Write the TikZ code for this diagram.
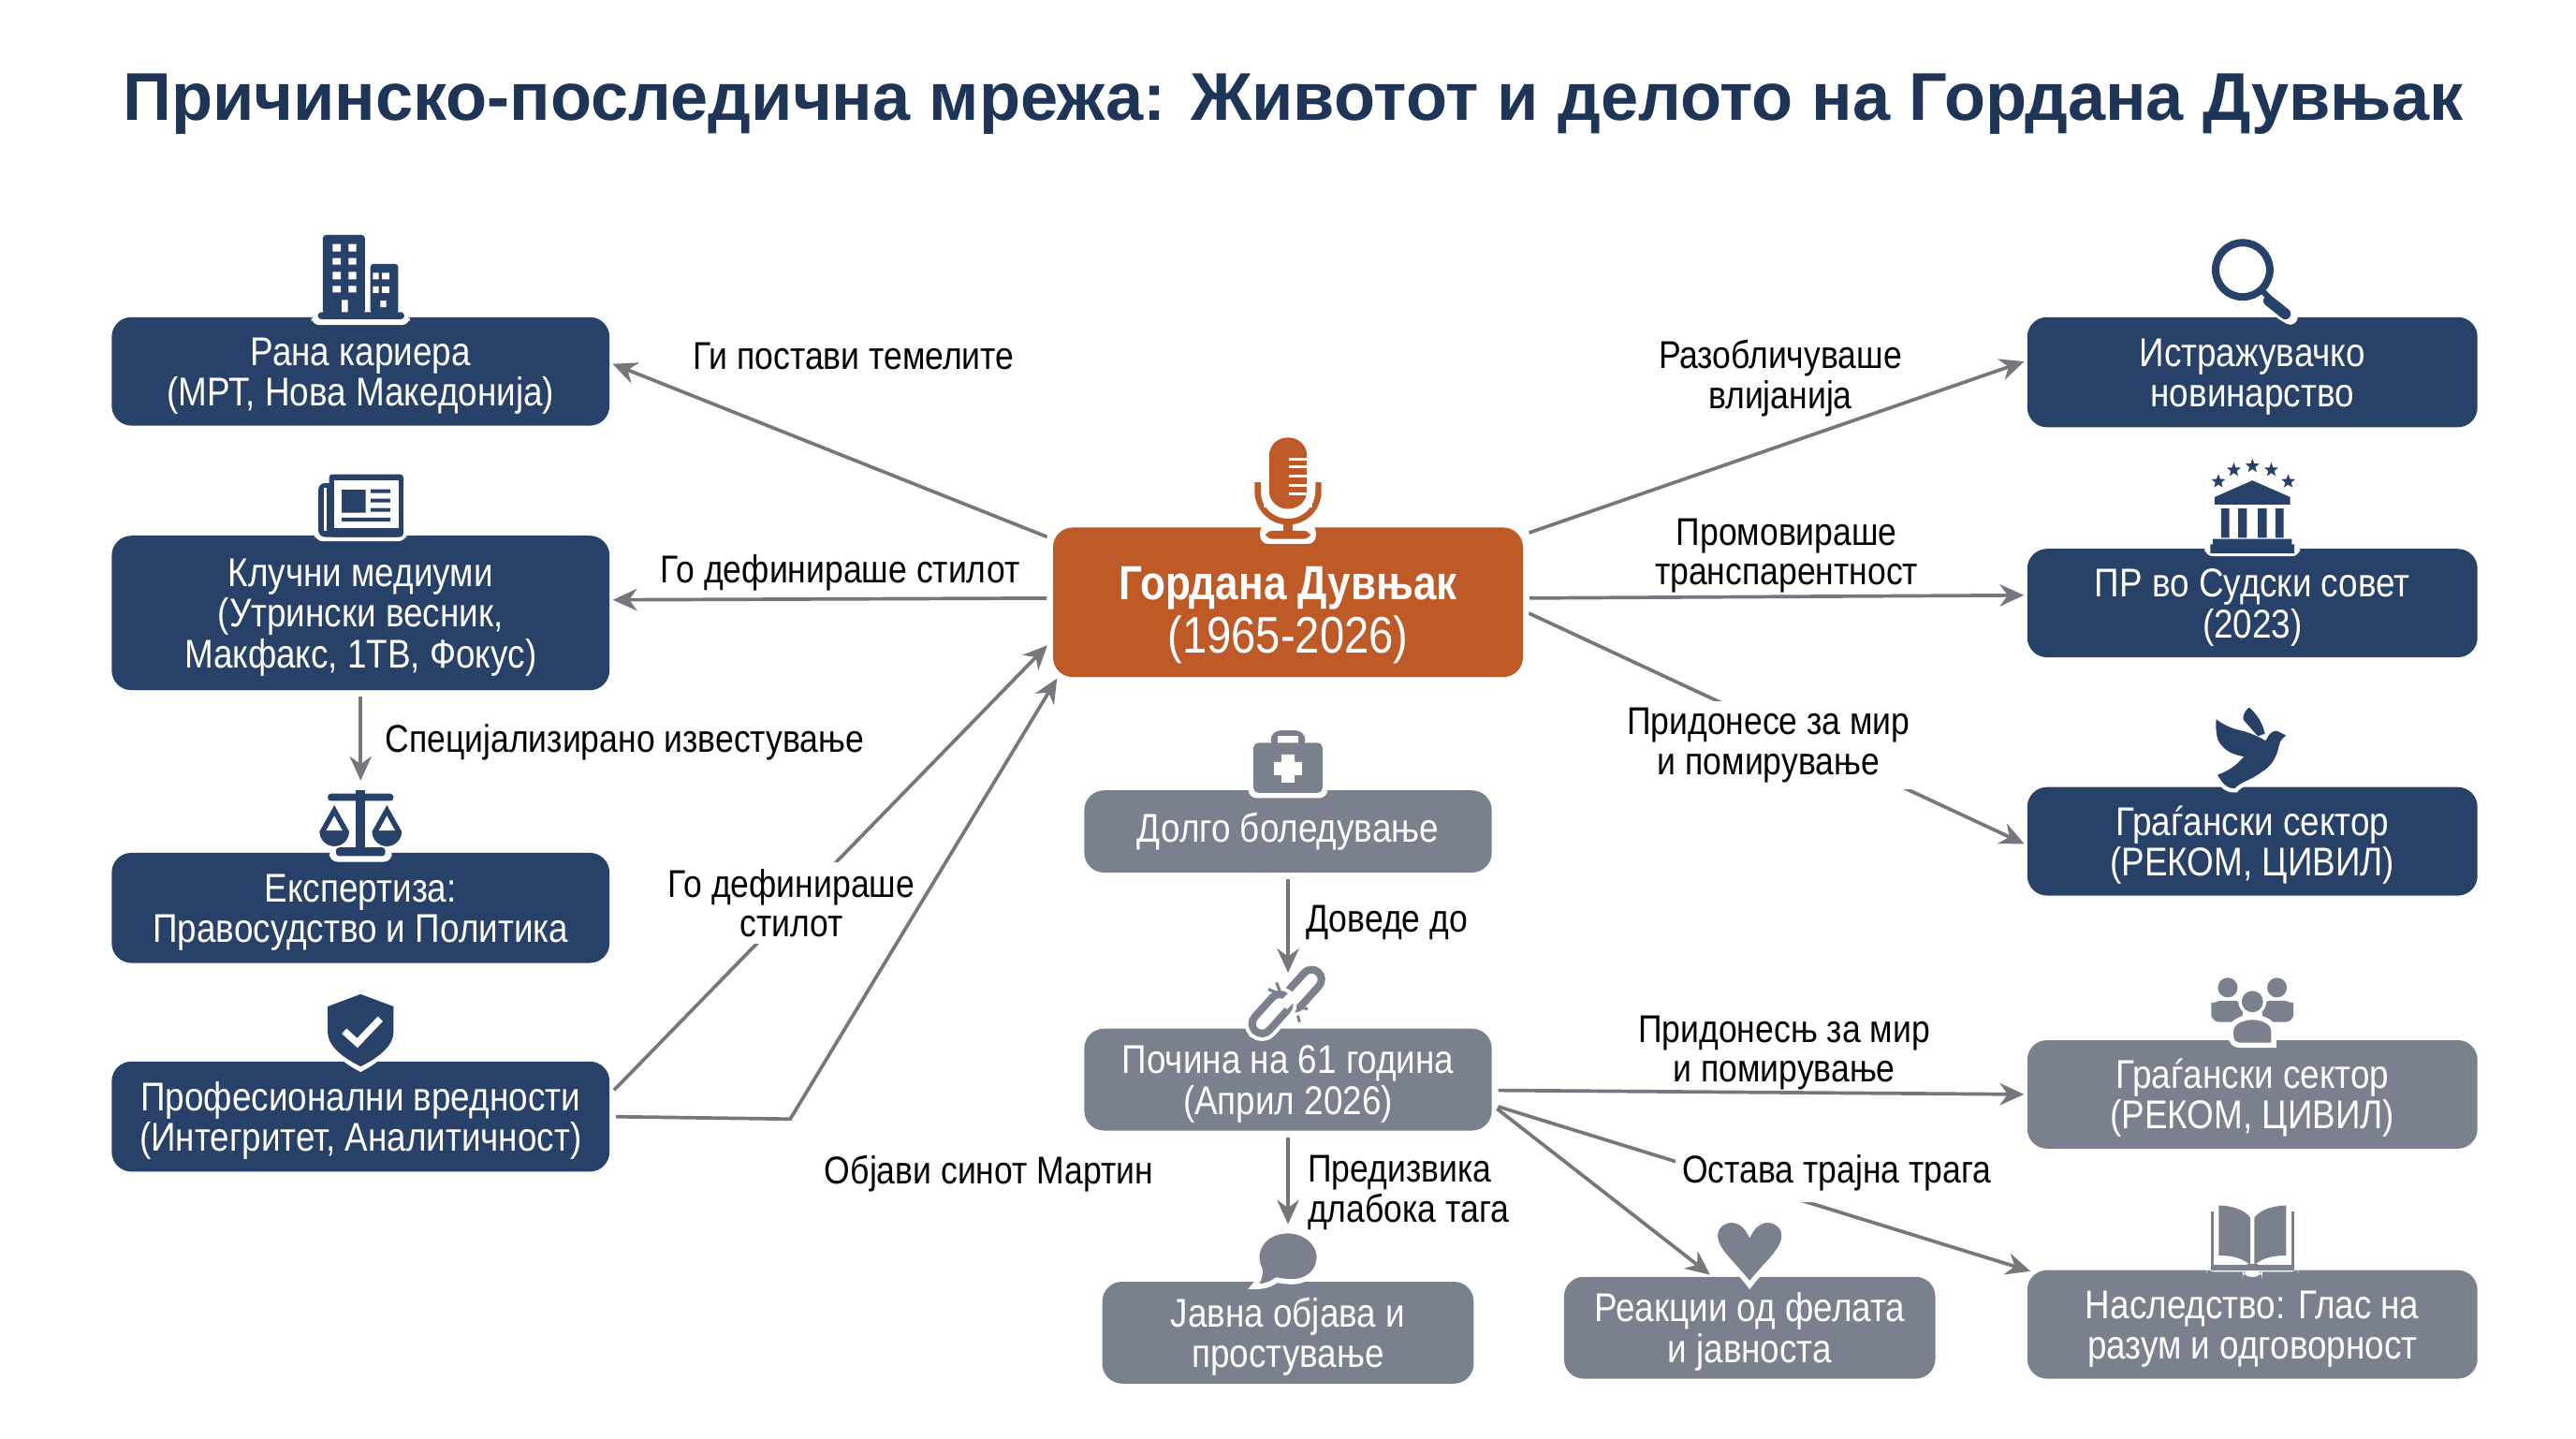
\documentclass[tikz,border=0pt]{standalone}
\usepackage{fontspec}
\setmainfont[FakeStretch=.86]{Liberation Sans}
\newfontfamily\titlefont{Liberation Sans}
\usetikzlibrary{arrows.meta,positioning}

\definecolor{dnavy}{HTML}{284168}
\definecolor{dorange}{HTML}{BE5A28}
\definecolor{dgray}{HTML}{7A808D}
\definecolor{dline}{HTML}{74777E}
\definecolor{dtitle}{HTML}{1F3557}

\newcommand{\boxfont}{\fontsize{6.95}{7}\selectfont}
\newcommand{\lblfont}{\fontsize{6.7}{6.9}\selectfont}
\newcommand{\tf}{\rule{0pt}{6.4pt}}
\newcommand{\icstar}[2]{\fill[dnavy,shift={(#1,#2)}] (90:4.5)--(126:1.9)--(162:4.5)--(198:1.9)--(234:4.5)--(270:1.9)--(306:4.5)--(342:1.9)--(18:4.5)--(54:1.9)--cycle;}

\tikzset{
  basebox/.style={rectangle, rounded corners=1.2mm, text=white, inner sep=0pt, outer sep=0pt, align=center, font=\boxfont},
  navybox/.style={basebox, fill=dnavy},
  graybox/.style={basebox, fill=dgray},
  conn/.style={->, draw=dline, line width=.6pt, shorten <=.4mm, shorten >=.2mm},
  lbl/.style={font=\lblfont, text=black, align=center, inner sep=0pt},
  gaplbl/.style={lbl, fill=white, inner sep=.4mm},
  icon/.style={x=.1mm, y=.1mm},
  halo/.style={fill=white, rounded corners=.5mm},
  icbuilding/.pic={
    \fill[halo] (-30,2) rectangle (30,-4.8);
    \fill[dnavy,rounded corners=.2mm] (-23,2) rectangle (2.6,50);
    \fill[dnavy,rounded corners=.2mm] (5.9,2) rectangle (22.9,32.4);
    \fill[dnavy,rounded corners=.2mm] (-26,-1.2) rectangle (26.6,3);
    \fill[white] (-17,40) rectangle (-12,44.5) (-7.4,40) rectangle (-2.6,44.5)
      (-17,32) rectangle (-12,36) (-7.4,32) rectangle (-2.6,36)
      (-17,23) rectangle (-12,27.5) (-7.4,23) rectangle (-2.6,27.5)
      (-17,15) rectangle (-12,19) (-7.4,15) rectangle (-2.6,19)
      (-11.5,3) rectangle (-7.8,10.5)
      (7.5,23) rectangle (11,27) (13,23) rectangle (17.4,27)
      (7.5,14.7) rectangle (11,18.7) (13,14.7) rectangle (17.4,18.7)
      (12,6) rectangle (15.6,10);
  },
  icpaper/.pic={
    \fill[halo] (-28,3) rectangle (28,-3.4);
    \fill[dnavy,rounded corners=.4mm] (-25.7,-.8) rectangle (26,32);
    \fill[dnavy,rounded corners=.2mm] (-19.2,-.8) rectangle (26,37.4);
    \fill[white] (-16,4.4) rectangle (23,34);
    \fill[white] (-22.5,3) rectangle (-20.5,29);
    \fill[dnavy] (-11.5,14) rectangle (3,28)
      (6,26) rectangle (18,28.3) (6,20.3) rectangle (18,22.6) (6,14.5) rectangle (18,16.8)
      (-11.5,8.7) rectangle (18,11);
  },
  icscales/.pic={
    \fill[halo] (-19,3) rectangle (19,-5.5);
    \fill[dnavy] (-15,-2) [rounded corners=.2mm] rectangle (15,3.3);
    \fill[dnavy] (-2.8,0) rectangle (2.8,38);
    \fill[dnavy,rounded corners=.2mm] (-20,31.6) rectangle (20,36);
    \fill[dnavy] (-16,29) -- (-25,13) arc[start angle=180,end angle=360,radius=9] -- cycle;
    \fill[dnavy] (16,29) -- (7,13) arc[start angle=180,end angle=360,radius=9] -- cycle;
    \fill[white] (-16,22.5) -- (-21,13.5) -- (-11,13.5) -- cycle;
    \fill[white] (16,22.5) -- (11,13.5) -- (21,13.5) -- cycle;
  },
  icshield/.pic={
    \fill[white] (0,-6.4) .. controls (-12,0) and (-22,8) .. (-22,20) -- (22,20) .. controls (22,8) and (12,0) .. (0,-6.4) -- cycle;
    \fill[dnavy] (0,41) -- (-20,33.5) -- (-20,18) .. controls (-20,9) and (-10,2) .. (0,-3) .. controls (10,2) and (20,9) .. (20,18) -- (20,33.5) -- cycle;
    \draw[white,line width=1.2pt] (-10,18.5) -- (-2,11.3) -- (12,26);
  },
  icmic/.pic={
    \fill[halo] (-17,2) rectangle (17,-10);
    \fill[dorange,rounded corners=.4mm] (-13.6,-7) rectangle (13.6,-2);
    \draw[white,line width=2.1pt] (-18.5,27.5) -- (-18.5,22) arc[start angle=180,end angle=360,radius=18.5] -- (18.5,27.5);
    \fill[dorange] (-2.6,-3) rectangle (2.6,4);
    \draw[dorange,line width=1.05pt] (-18.5,27.5) -- (-18.5,22) arc[start angle=180,end angle=360,radius=18.5] -- (18.5,27.5);
    \fill[white] (-15,12) rectangle (15,27);
    \fill[dorange,rounded corners=1.1mm] (-11.5,11.4) rectangle (11.5,54.7);
    \draw[white,line width=.5pt] (.7,41.8) -- (11.5,41.8) (.7,37) -- (11.5,37) (.7,31.4) -- (11.5,31.4) (.7,25.7) -- (11.5,25.7) (.7,20.5) -- (11.5,20.5);
  },
  icmedkit/.pic={
    \fill[halo] (-24,3) rectangle (24,-4.7);
    \fill[dgray,rounded corners=.6mm] (-10.5,25) rectangle (10.5,36.5);
    \fill[white] (-6.4,25) rectangle (6.4,33);
    \fill[dgray,rounded corners=.3mm] (-21,-1.5) rectangle (21,29);
    \fill[white] (-8.5,9.3) rectangle (8.5,17.3) (-4,4.8) rectangle (4,21.8);
  },
  iclink/.pic={
    \begin{scope}[shift={(9,24)},rotate=48]
      \draw[white,line width=2.6pt,rounded corners=.6mm] (-14,-6) rectangle (14,6);
      \draw[dgray,line width=1.3pt,rounded corners=.6mm] (-14,-6) rectangle (14,6);
    \end{scope}
    \begin{scope}[shift={(-10.5,9)},rotate=48]
      \draw[white,line width=2.6pt,rounded corners=.6mm] (-14,-6) rectangle (14,6);
      \draw[dgray,line width=1.3pt,rounded corners=.6mm] (-14,-6) rectangle (14,6);
    \end{scope}
    \draw[white,line width=1.8pt] (-3,14) -- (3,20);
    \draw[dgray,line width=.5pt] (-7,28) -- (-5,23) (-12,24) -- (-7,22) (7,13) -- (12,12) (6,8) -- (7,4);
  },
  icbubble/.pic={
    \path[fill=dgray,draw=white,line width=.9pt] (-17,7) .. controls (-17,3) and (-18,0) .. (-21,-3) .. controls (-15,-3) and (-11,-2) .. (-7,1) .. controls (-3,.3) and (0,0) .. (2,0) .. controls (12,0) and (19,6) .. (19,15) .. controls (19,24) and (10,31) .. (0,31) .. controls (-11,31) and (-19,24) .. (-19,15) .. controls (-19,12) and (-18,9) .. (-17,7) -- cycle;
  },
  icheart/.pic={
    \path[fill=dgray,draw=white,line width=.9pt] (0,-5) .. controls (-11,9) and (-21,16) .. (-21,25) .. controls (-21,31) and (-16,34.5) .. (-11,34.5) .. controls (-6,34.5) and (-2,31) .. (0,27) .. controls (2,31) and (6,34.5) .. (11,34.5) .. controls (16,34.5) and (21,31) .. (21,25) .. controls (21,16) and (11,9) .. (0,-5) -- cycle;
  },
  iclens/.pic={
    \draw[white,line width=2.6pt,line cap=round] (18,3) -- (23,0);
    \draw[dnavy,line width=1.3pt] (-5.9,28.8) circle[radius=16.5];
    \draw[dnavy,line width=1pt] (6,16) -- (11,11);
    \draw[dnavy,line width=1.9pt,line cap=round] (10,10) -- (20,2);
  },
  iccourt/.pic={
    \icstar{-20.7}{41}\icstar{-11.3}{48}\icstar{0}{50.4}\icstar{11.5}{48}\icstar{21.8}{41}
    \fill[halo] (-29,3) rectangle (29,-4.5);
    \fill[dnavy] (0,41.6) -- (-23,31.5) -- (-23,27) -- (23,27) -- (23,31.5) -- cycle;
    \fill[dnavy] (-19,6.8) rectangle (-14,24.6) (-8.7,6.8) rectangle (-3.3,24.6) (3.3,6.8) rectangle (8.7,24.6) (14,6.8) rectangle (19,24.6);
    \fill[dnavy] (-24,2.7) rectangle (24,6) (-25.6,-2.7) rectangle (25.6,2.7);
  },
  icdove/.pic={
    \path[fill=dnavy,draw=white,line width=.7pt] (23.5,31.5) -- (15,35.6) .. controls (11,35.6) and (9,33) .. (7.6,30) .. controls (2,33) and (-3,35) .. (-6.5,35.6) .. controls (-13,37) and (-19,40) .. (-23,44) .. controls (-24,36) and (-23,30) .. (-21.8,27.4) .. controls (-18,21) and (-13,19) .. (-7.6,17.8) .. controls (-13,12) and (-18,10) .. (-23,8.2) .. controls (-21,4) and (-17,-3) .. (-10,-2) .. controls (-7,2) and (0,3) .. (6.5,8.2) .. controls (13,12) and (16,18) .. (17.4,24.6) .. controls (18,28) and (20,30) .. (23.5,31.5) -- cycle;
    \fill[dnavy] (-2,48.5) .. controls (-5,46) and (-6,43) .. (-5.5,41) -- (3.3,31) -- (7.6,32.5) .. controls (6,40) and (2,45) .. (-2,48.5) -- cycle;
  },
  icpeople/.pic={
    \fill[dgray] (-15,32) circle[radius=6] (15,32) circle[radius=6];
    \fill[dgray,rounded corners=.5mm] (-25,11) -- (-25,18) .. controls (-25,22) and (-20,24) .. (-15,24) .. controls (-10,24) and (-6,22) .. (-6,18) -- (-6,11) -- cycle;
    \fill[dgray,rounded corners=.5mm] (25,11) -- (25,18) .. controls (25,22) and (20,24) .. (15,24) .. controls (10,24) and (6,22) .. (6,18) -- (6,11) -- cycle;
    \fill[white] (0,23.5) circle[radius=8.5];
    \fill[dgray] (0,23.5) circle[radius=6.5];
    \path[fill=dgray,draw=white,line width=.9pt] (-13,-3) -- (-13,6) .. controls (-13,11) and (-6,14) .. (0,14) .. controls (6,14) and (13,11) .. (13,6) -- (13,-3) [rounded corners=.5mm] -- cycle;
  },
  icbook/.pic={
    \fill[halo] (-28,3) rectangle (28,-1);
    \fill[halo] (-6,0) rectangle (6,-4);
    \fill[dgray] (-25.5,0) rectangle (25.5,35.5);
    \fill[white] (-23.8,3) rectangle (23.8,36);
    \fill[dgray] (-3,0) rectangle (3,4);
    \path[fill=dgray] (-1.2,32) .. controls (-5,37) and (-13,39.4) .. (-20.5,39.4) -- (-20.5,9) .. controls (-12,9) and (-5,7) .. (-1.2,3) -- cycle;
    \path[fill=dgray] (1.2,32) .. controls (5,37) and (13,39.4) .. (20.5,39.4) -- (20.5,9) .. controls (12,9) and (5,7) .. (1.2,3) -- cycle;
  },
}

\begin{document}
\begin{tikzpicture}[>={Stealth[length=4.2pt,width=3.8pt]}]
  \fill[white] (0,0) rectangle (15.68,-8.752);
  \node[font=\titlefont\fontsize{11.7}{13}\selectfont\bfseries, text=dtitle] (title) at (7.87,-.635)
    {Причинско-последична мрежа: Животот и делото на Гордана Дувњак};

  \node[navybox, minimum width=3.03cm, minimum height=.66cm] (rana) at (2.195,-2.26)
    {\tf Рана кариера\\(МРТ, Нова Македонија)};
  \node[navybox, minimum width=3.03cm, minimum height=.94cm, below=.67cm of rana] (klucni)
    {\tf Клучни медиуми\\(Утрински весник,\\Макфакс, 1ТВ, Фокус)};
  \node[navybox, minimum width=3.03cm, minimum height=.67cm, below=.99cm of klucni] (ekspertiza)
    {\tf Експертиза:\\Правосудство и Политика};
  \node[navybox, minimum width=3.03cm, minimum height=.67cm, below=.60cm of ekspertiza] (prof)
    {\tf Професионални вредности\\(Интегритет, Аналитичност)};

  \node[basebox, fill=dorange, minimum width=2.86cm, minimum height=.91cm, font=\fontsize{8.9}{9.1}\selectfont] (center) at (7.84,-3.665)
    {\rule{0pt}{10.2pt}\textbf{\fontsize{8.3}{9.1}\selectfont Гордана Дувњак}\\(1965-2026)};
  \node[graybox, minimum width=2.48cm, minimum height=.50cm, below=.69cm of center] (dolgo)
    {Долго боледување};
  \node[graybox, minimum width=2.48cm, minimum height=.62cm, below=.95cm of dolgo] (pocina)
    {\tf Почина на 61 година\\(Април 2026)};
  \node[graybox, minimum width=2.26cm, minimum height=.62cm, below=.92cm of pocina] (javna)
    {\tf Јавна објава и\\простување};
  \node[graybox, minimum width=2.26cm, minimum height=.62cm] (reakcii) at (10.65,-8.08)
    {\tf Реакции од фелата\\и јавноста};

  \node[navybox, minimum width=2.74cm, minimum height=.67cm] (istrazuvacko) at (13.71,-2.265)
    {\tf Истражувачко\\новинарство};
  \node[navybox, minimum width=2.74cm, minimum height=.66cm, below=.74cm of istrazuvacko] (sudski)
    {\tf ПР во Судски совет\\(2023)};
  \node[navybox, minimum width=2.74cm, minimum height=.66cm, below=.79cm of sudski] (gragjanski)
    {\tf Граѓански сектор\\(РЕКОМ, ЦИВИЛ)};
  \node[graybox, minimum width=2.74cm, minimum height=.66cm, below=.88cm of gragjanski] (civilen)
    {\tf Граѓански сектор\\(РЕКОМ, ЦИВИЛ)};
  \node[graybox, minimum width=2.74cm, minimum height=.66cm, below=.74cm of civilen] (nasledstvo)
    {\tf Наследство: Глас на\\разум и одговорност};

  \pic[icon] at (rana.north) {icbuilding};
  \pic[icon] at (klucni.north) {icpaper};
  \pic[icon] at (ekspertiza.north) {icscales};
  \pic[icon] at (prof.north) {icshield};
  \pic[icon] at (center.north) {icmic};
  \pic[icon] at (dolgo.north) {icmedkit};
  \pic[icon] at (pocina.north) {iclink};
  \pic[icon] at (javna.north) {icbubble};
  \pic[icon] at (reakcii.north) {icheart};
  \pic[icon] at (istrazuvacko.north) {iclens};
  \pic[icon] at (sudski.north) {iccourt};
  \pic[icon] at (gragjanski.north) {icdove};
  \pic[icon] at (civilen.north) {icpeople};
  \pic[icon] at (nasledstvo.north) {icbook};

  \coordinate (bend) at (4.81,-6.81);

  \draw[conn] (center.165) -- node[lbl,pos=.45,yshift=6.3mm]{Ги постави темелите} (rana.2.3);
  \draw[conn] (center.179) -- node[lbl,pos=.48,yshift=1.6mm]{Го дефинираше стилот} (klucni.3.4);
  \draw[conn, shorten >=4.4mm] (klucni.south) -- node[lbl,pos=.32,right=1.4mm]{Специјализирано известување} (ekspertiza.north);
  \draw[conn, shorten >=.5mm] (prof.5) -- node[gaplbl,pos=.41,yshift=.3mm]{Го дефинираше\\стилот} (center.189.7);
  \draw[conn, shorten >=.1mm] (prof.-.6) -- (bend) -- (center.198);

  \draw[conn] (center.16.2) -- node[lbl,pos=.52,yshift=4mm,xshift=-.3mm]{Разобличуваше\\влијанија} (istrazuvacko.177.3);
  \draw[conn] (center.1) -- node[lbl,pos=.5,yshift=2.5mm,xshift=.7mm]{Промовираше\\транспарентност} (sudski.178.7);
  \draw[conn] (center.-2) -- node[gaplbl,pos=.487,yshift=-1.25mm]{Придонесе за мир\\и помирување} (gragjanski.181.3);

  \draw[conn, shorten >=3.4mm] (dolgo.south) -- node[lbl,pos=.32,right=1mm]{Доведе до} (pocina.north);
  \draw[conn, shorten >=3.5mm] (pocina.south) -- node[lbl,pos=.41,right=1.1mm,align=left]{Предизвика\\длабока тага} (javna.north);
  \draw[conn] (pocina.-3.7) -- node[lbl,pos=.5,yshift=2.4mm,xshift=1.5mm]{Придонесњ за мир\\и помирување} (civilen.west);
  \draw[conn, shorten >=-.2mm] (pocina.-7.4) -- node[gaplbl,pos=.644,yshift=2.2mm,text depth=2.2pt]{Остава трајна трага} (nasledstvo.north west);
  \draw[conn] (pocina.-7.4) -- (reakcii.126.6);

  \node[lbl] (objavi) at (6.02,-7.14) {Објави синот Мартин};
\end{tikzpicture}
\end{document}
